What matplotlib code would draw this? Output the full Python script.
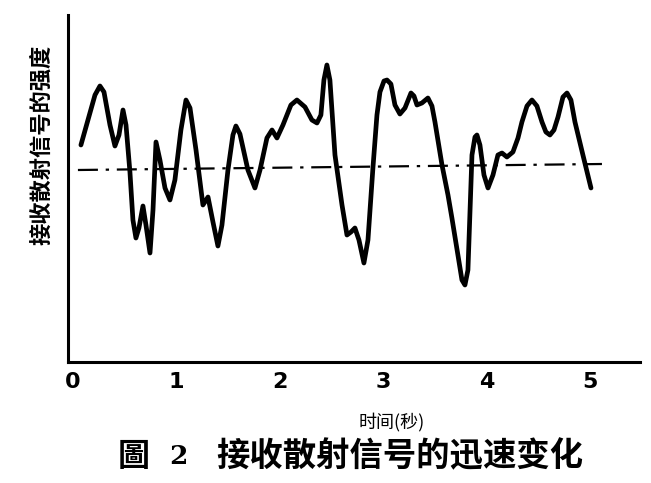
import numpy as np
import matplotlib
matplotlib.use('Agg')
import matplotlib.pyplot as plt

plt.rcParams['font.family'] = ['Noto Sans CJK SC', 'DejaVu Sans']

#%% data (time in s, intensity in arbitrary units)

t = [0.077, 0.145, 0.213, 0.261, 0.300, 0.358, 0.406, 0.445, 0.484, 0.513,
     0.551, 0.580, 0.609, 0.638, 0.677, 0.706, 0.745, 0.774, 0.803, 0.841,
     0.890, 0.938, 0.986, 1.044, 1.093, 1.132, 1.190, 1.257, 1.306, 1.354,
     1.402, 1.441, 1.499, 1.547, 1.576, 1.615, 1.692, 1.760, 1.809, 1.876,
     1.925, 1.973, 2.031, 2.108, 2.166, 2.244, 2.311, 2.360, 2.398, 2.427,
     2.456, 2.485, 2.534, 2.602, 2.650, 2.689, 2.727, 2.766, 2.814, 2.853,
     2.901, 2.940, 2.969, 3.008, 3.037, 3.075, 3.114, 3.162, 3.211, 3.269,
     3.298, 3.327, 3.375, 3.433, 3.472, 3.501, 3.569, 3.627, 3.665, 3.723,
     3.762, 3.791, 3.820, 3.859, 3.888, 3.907, 3.936, 3.975, 4.014, 4.062,
     4.110, 4.149, 4.197, 4.255, 4.304, 4.342, 4.391, 4.439, 4.487, 4.536,
     4.574, 4.613, 4.652, 4.691, 4.739, 4.778, 4.816, 4.855, 4.932, 5.010]

strength = [217, 242, 267, 276, 270, 237, 216, 227, 252, 237,
            190, 142, 124, 134, 156, 137, 109, 152, 220, 202,
            174, 162, 182, 232, 262, 254, 212, 157, 165, 140,
            116, 137, 192, 227, 236, 228, 192, 174, 192, 224,
            232, 224, 237, 257, 262, 255, 242, 239, 247, 282,
            297, 282, 207, 157, 127, 130, 134, 122, 99, 122,
            194, 247, 270, 281, 282, 278, 257, 248, 254, 269,
            266, 257, 259, 264, 256, 240, 197, 167, 144, 107,
            82, 77, 92, 207, 225, 227, 217, 187, 174, 187,
            207, 209, 205, 210, 224, 240, 256, 262, 256, 240,
            230, 227, 232, 245, 265, 269, 262, 240, 207, 174]

ref_t = [0.048, 5.116]
ref_level = [192, 198]

xticks = [0, 1, 2, 3, 4, 5]
xtick_labels = ['0', '1', '2', '3', '4', '5']

ylabel = '接收散射信号的强度'
xlabel = '时间(秒)'
fig_word = '圖'
fig_no = '2'
caption = '接收散射信号的迅速变化'

#%% figure

W, H = 651, 483
fig = plt.figure(figsize=(W/100, H/100), dpi=100)
ax = fig.add_axes([68/W, 1-362/H, (640-68)/W, (362-15)/H])

ax.plot(t, strength, color='black', lw=3.4, solid_joinstyle='round',
        solid_capstyle='round')
ax.plot(ref_t, ref_level, color='black', lw=1.6, linestyle=(0, (9, 3.5, 1.5, 3.5)))

ax.set_xlim(-0.048, 5.484)
ax.set_ylim(0, 347)

for s in ['top', 'right']:
    ax.spines[s].set_visible(False)
for s in ['left', 'bottom']:
    ax.spines[s].set_linewidth(2.2)

ax.set_yticks([])
ax.set_xticks(xticks)
ax.set_xticklabels(xtick_labels, fontsize=16, fontweight='bold',
                   family=['DejaVu Sans'])
ax.tick_params(axis='x', length=0, pad=7)

fig.text(42/W, 1-145/H, ylabel, rotation=90, ha='center', va='center',
         fontsize=16, fontweight='bold')
fig.text(392/W, 1-422/H, xlabel, ha='center', va='center', fontsize=13)
fig.text(134/W, 1-457/H, fig_word, ha='center', va='center', fontsize=23,
         fontweight='bold')
fig.text(178/W, 1-457/H, fig_no, ha='center', va='center', fontsize=19,
         fontweight='bold', family=['DejaVu Serif'])
fig.text(400/W, 1-457/H, caption, ha='center', va='center', fontsize=24,
         fontweight='bold')

fig.savefig('out.png', dpi=100)
